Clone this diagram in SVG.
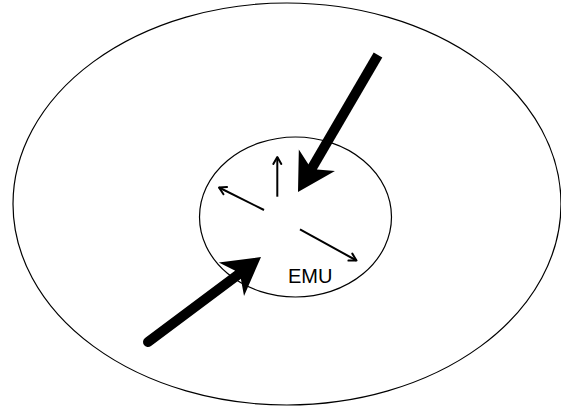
<svg xmlns="http://www.w3.org/2000/svg" width="561" height="406" viewBox="0 0 561 406">
<style>
.ell{fill:none;stroke:#000;stroke-width:1.2}
.thin{stroke:#000;stroke-width:2;fill:none;marker-end:url(#chev)}
.thick{stroke:#000;stroke-width:10;fill:none}
.head{fill:#000;stroke:none}
.lbl{font-family:"Liberation Sans",Arial,sans-serif;font-size:20px;fill:#000}
</style>
<defs>
<marker id="chev" markerUnits="userSpaceOnUse" markerWidth="12" markerHeight="12" viewBox="-10 -6 12 12" refX="0" refY="0" orient="auto">
<path d="M-7,-4 L0,0 L-7,4" fill="none" stroke="#000" stroke-width="2" stroke-linecap="round" stroke-linejoin="round"/>
</marker>
<path id="bigHead" d="M0,0 L-37,-21 L-29,-5 L-29,5 L-37,21 Z"/>
</defs>
<g id="outer"><ellipse class="ell" cx="287" cy="204" rx="274" ry="201"/></g>
<g id="emu">
<ellipse class="ell" cx="295.5" cy="217" rx="96" ry="80"/>
<text class="lbl" x="288" y="282.5">EMU</text>
</g>
<g id="connectors">
<line class="thin" x1="277.3" y1="196.7" x2="277.3" y2="157"/>
<line class="thin" x1="264" y1="210" x2="219" y2="187.5"/>
<line class="thin" x1="300" y1="229.3" x2="356.5" y2="260.5"/>
<line class="thick" x1="378" y1="55" x2="312" y2="168" stroke-linecap="butt"/>
<use href="#bigHead" class="head" transform="translate(298,192) rotate(120.7)"/>
<line class="thick" x1="148" y1="342" x2="239" y2="274" stroke-linecap="round"/>
<use href="#bigHead" class="head" transform="translate(261,257) rotate(-36.9)"/>
</g>
</svg>
